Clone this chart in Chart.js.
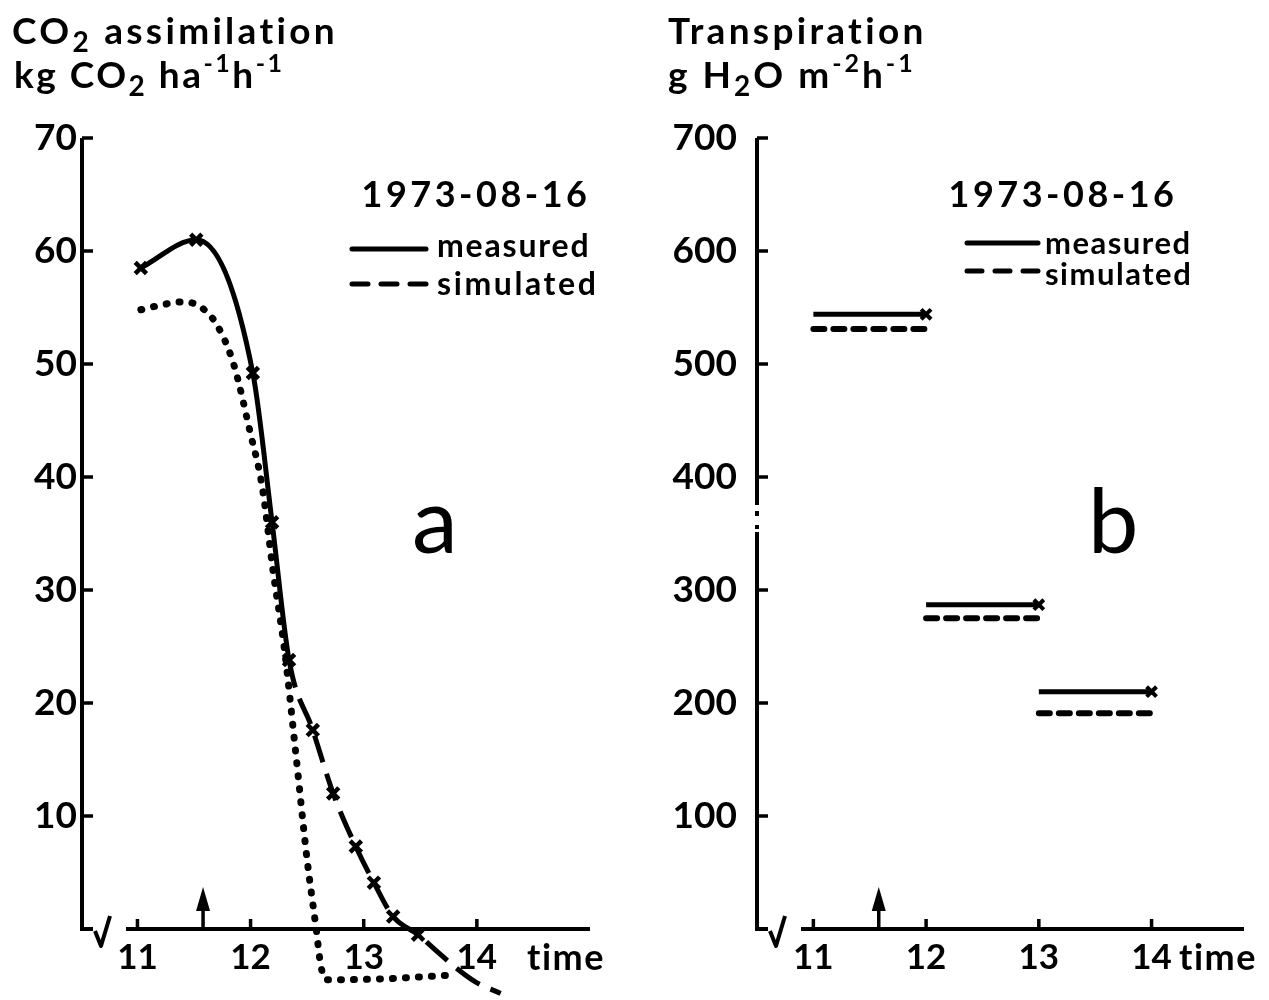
<!DOCTYPE html>
<html>
<head>
<meta charset="utf-8">
<script src="https://cdn.jsdelivr.net/npm/chart.js@4.4.1/dist/chart.umd.min.js"></script>
<style>
  html, body { margin: 0; padding: 0; background: #fff; }
  #wrap { position: relative; width: 1269px; height: 1000px; }
  .panel { position: absolute; top: 0; height: 1000px; }
  #panelA { left: 0; width: 634px; }
  #panelB { left: 634px; width: 635px; }
</style>
</head>
<body>
<div id="wrap">
  <div class="panel" id="panelA"><canvas id="co2" width="634" height="1000"></canvas></div>
  <div class="panel" id="panelB"><canvas id="transp" width="635" height="1000"></canvas></div>
</div>
<script>
// panel a: CO2 assimilation (kg CO2 / ha / h)
var measHours = [11.03, 11.52, 12.02, 12.19, 12.34, 12.55, 12.73, 12.93, 13.09, 13.26, 13.48, 13.65, 13.81, 13.99, 14.21];
var co2Measured = [58.5, 61.0, 49.2, 36.0, 23.8, 17.6, 12.0, 7.3, 4.1, 1.1, -0.5, -2.0, -3.4, -4.7, -5.7];
var simHours = [11.03, 11.2, 11.4, 11.55, 11.7, 11.85, 12.0, 12.1, 12.2, 12.3, 12.4, 12.5, 12.58, 12.62, 12.67, 13.2, 13.75];
var co2Simulated = [54.8, 55.2, 55.5, 55.1, 53.5, 50.0, 43.8, 39.3, 31.6, 24.7, 15.5, 6.1, 0.0, -3.2, -4.5, -4.4, -4.1];
var co2Ticks = [10, 20, 30, 40, 50, 60, 70];

// panel b: transpiration (g H2O / m2 / h), hourly totals
var transpHours = [11, 12, 13];
var transpMeasured = [544, 287, 210];
var transpSimulated = [531, 275, 191];
var transpTicks = [100, 200, 300, 400, 500, 600, 700];

var timeTicks = [11, 12, 13, 14];
var markHour = 11.58;

var FONT = 'Lato, "DejaVu Sans", sans-serif';

// text in pieces: [string, size factor, baseline shift] for sub/superscripts
function drawRich(ctx, parts, x, y, size, spacing, align, weight) {
  weight = weight || 'bold';
  ctx.save();
  ctx.letterSpacing = (spacing || 0) + 'px';
  ctx.textBaseline = 'alphabetic';
  ctx.fillStyle = '#000';
  var w = 0;
  parts.forEach(function(p) {
    ctx.font = weight + ' ' + Math.round(size * p[1]) + 'px ' + FONT;
    w += ctx.measureText(p[0]).width;
  });
  var cx = align === 'center' ? x - w / 2 : x;
  parts.forEach(function(p) {
    ctx.font = weight + ' ' + Math.round(size * p[1]) + 'px ' + FONT;
    ctx.fillText(p[0], cx, y + p[2]);
    cx += ctx.measureText(p[0]).width;
  });
  ctx.restore();
}

// axes, inward ticks, axis break, arrow and the printed labels
var decor = {
  id: 'decor',
  afterDraw: function(chart, args, o) {
    var ctx = chart.ctx, xs = chart.scales.x, ys = chart.scales.y;
    var left = xs.left, right = xs.right;
    var bottom = ys.getPixelForValue(0), top = ys.getPixelForValue(ys.max);
    ctx.save();
    ctx.strokeStyle = '#000';
    ctx.fillStyle = '#000';
    ctx.lineWidth = 4;
    ctx.lineCap = 'butt';
    ctx.lineJoin = 'miter';

    // y axis with the corner and break sign
    ctx.beginPath();
    if (o.gap) {
      ctx.moveTo(left, top); ctx.lineTo(left, o.gap[0]);
      ctx.moveTo(left, o.gap[0] + 6); ctx.lineTo(left, o.gap[0] + 11);
      ctx.moveTo(left, o.gap[1] - 7); ctx.lineTo(left, o.gap[1] - 3);
      ctx.moveTo(left, o.gap[1]); ctx.lineTo(left, bottom);
    } else {
      ctx.moveTo(left, top); ctx.lineTo(left, bottom);
    }
    ctx.lineTo(left + 11, bottom);
    ctx.stroke();
    ctx.lineJoin = 'round';
    ctx.beginPath();
    ctx.moveTo(left + 13, bottom + 2);
    ctx.lineTo(left + 19, bottom + 17);
    ctx.lineTo(left + 28, bottom - 13);
    ctx.stroke();
    ctx.beginPath();
    ctx.moveTo(left + 44, bottom); ctx.lineTo(right, bottom);
    ctx.stroke();

    // inward ticks
    ctx.lineWidth = 3.5;
    ctx.beginPath();
    ys.ticks.forEach(function(t) {
      var py = ys.getPixelForValue(t.value);
      ctx.moveTo(left, py); ctx.lineTo(left + 11, py);
    });
    xs.ticks.forEach(function(t) {
      var px = xs.getPixelForValue(t.value);
      ctx.moveTo(px, bottom); ctx.lineTo(px, bottom - 10);
    });
    ctx.stroke();

    // arrow on the time axis
    var ax = xs.getPixelForValue(markHour);
    ctx.lineWidth = 3.5;
    ctx.beginPath();
    ctx.moveTo(ax, bottom); ctx.lineTo(ax, bottom - 20);
    ctx.stroke();
    ctx.beginPath();
    ctx.moveTo(ax, bottom - 42);
    ctx.lineTo(ax - 7, bottom - 18);
    ctx.lineTo(ax + 7, bottom - 18);
    ctx.closePath();
    ctx.fill();

    // legend keys
    var lg = o.legend;
    ctx.lineWidth = 5;
    ctx.lineCap = 'round';
    ctx.beginPath();
    ctx.moveTo(lg.x0, lg.y1); ctx.lineTo(lg.x1, lg.y1);
    ctx.stroke();
    ctx.setLineDash(lg.dash);
    ctx.beginPath();
    ctx.moveTo(lg.x0, lg.y2); ctx.lineTo(lg.x1, lg.y2);
    ctx.stroke();
    ctx.setLineDash([]);
    ctx.restore();

    o.texts.forEach(function(t) {
      drawRich(ctx, t[0], t[1], t[2], t[3], t[4], t[5], t[6]);
    });
  }
};

function baseOptions(xMin, xMax, yMax, yTicks, yWidth, yPad, padRight, decorOpts) {
  return {
    responsive: false,
    animation: false,
    layout: { padding: { top: 138, left: 0, right: padRight, bottom: 0 } },
    plugins: { legend: { display: false }, tooltip: { enabled: false }, decor: decorOpts },
    scales: {
      x: {
        type: 'linear', min: xMin, max: xMax,
        afterBuildTicks: function(s) { s.ticks = timeTicks.map(function(v) { return { value: v }; }); },
        afterFit: function(s) { s.height = 71; },
        grid: { display: false, drawTicks: false },
        border: { display: false },
        ticks: { color: '#000', padding: 8, maxRotation: 0, font: { family: FONT, size: 35, weight: 'bold' } }
      },
      y: {
        type: 'linear', min: 0, max: yMax,
        afterBuildTicks: function(s) { s.ticks = yTicks.map(function(v) { return { value: v }; }); },
        afterFit: function(s) { s.width = yWidth; },
        grid: { display: false, drawTicks: false },
        border: { display: false },
        ticks: { color: '#000', padding: yPad, font: { family: FONT, size: 37, weight: 'bold' } }
      }
    }
  };
}

function pts(xs, ys) {
  return xs.map(function(x, i) { return { x: x, y: ys[i] }; });
}

// panel a
new Chart(document.getElementById('co2'), {
  type: 'line',
  data: {
    datasets: [
      {
        label: 'measured',
        data: pts(measHours, co2Measured),
        borderColor: '#000', borderWidth: 5,
        pointStyle: 'crossRot', pointRadius: 8, pointBorderWidth: 4.5,
        pointBorderColor: '#000', pointBackgroundColor: '#000',
        cubicInterpolationMode: 'monotone',
        segment: { borderDash: function(c) { return c.p0DataIndex >= 4 ? [28, 12] : undefined; } },
        clip: false
      },
      {
        label: 'simulated',
        data: pts(simHours, co2Simulated),
        borderColor: '#000', borderWidth: 7,
        borderDash: [1, 12], borderCapStyle: 'round',
        pointRadius: 0,
        cubicInterpolationMode: 'monotone',
        clip: false
      }
    ]
  },
  plugins: [decor],
  options: baseOptions(10.51, 15.0, 70, co2Ticks, 82, 5, 44, {
    legend: { x0: 352, x1: 426, y1: 249, y2: 284, dash: [16, 13] },
    texts: [
      [[['CO', 1, 0], ['2', 0.75, 8], [' assimilation', 1, 0]], 12, 44, 37, 3.3],
      [[['kg CO', 1, 0], ['2', 0.75, 8], [' ha', 1, 0], ['-1', 0.68, -16], ['h', 1, 0], ['-1', 0.68, -16]], 14, 88, 37, 2.5],
      [[['1973-08-16', 1, 0]], 476, 207, 36, 3.5, 'center'],
      [[['measured', 1, 0]], 437, 257, 32, 1.8],
      [[['simulated', 1, 0]], 437, 295, 32, 2.6],
      [[['a', 1, 0]], 412, 553, 92, 0, 'left', 'normal'],
      [[['time', 1, 0]], 527, 970, 36, 1.5]
    ]
  })
});

// panel b
var transpSets = [];
transpHours.forEach(function(h, i) {
  transpSets.push({
    label: 'measured',
    data: [{ x: h, y: transpMeasured[i] }, { x: h + 1, y: transpMeasured[i] }],
    borderColor: '#000', borderWidth: 5,
    pointStyle: 'crossRot', pointRadius: [0, 7], pointBorderWidth: 4,
    pointBorderColor: '#000',
    clip: false
  });
  transpSets.push({
    label: 'simulated',
    data: [{ x: h, y: transpSimulated[i] }, { x: h + 1, y: transpSimulated[i] }],
    borderColor: '#000', borderWidth: 6,
    borderDash: [11, 9], borderCapStyle: 'round',
    pointRadius: 0,
    clip: false
  });
});

new Chart(document.getElementById('transp'), {
  type: 'line',
  data: { datasets: transpSets },
  plugins: [decor],
  options: baseOptions(10.5, 14.82, 700, transpTicks, 123, 20, 25, {
    gap: [505, 532],
    legend: { x0: 333, x1: 404, y1: 243, y2: 271, dash: [15, 13] },
    texts: [
      [[['Transpiration', 1, 0]], 34, 44, 37, 3.3],
      [[['g H', 1, 0], ['2', 0.75, 8], ['O m', 1, 0], ['-2', 0.68, -16], ['h', 1, 0], ['-1', 0.68, -16]], 34, 88, 37, 3],
      [[['1973-08-16', 1, 0]], 429, 207, 36, 3.5, 'center'],
      [[['measured', 1, 0]], 411, 254, 31, 1.5],
      [[['simulated', 1, 0]], 411, 285, 31, 1.5],
      [[['b', 1, 0]], 454, 553, 90, 0, 'left', 'normal'],
      [[['time', 1, 0]], 545, 970, 36, 1.5]
    ]
  })
});
</script>
</body>
</html>
